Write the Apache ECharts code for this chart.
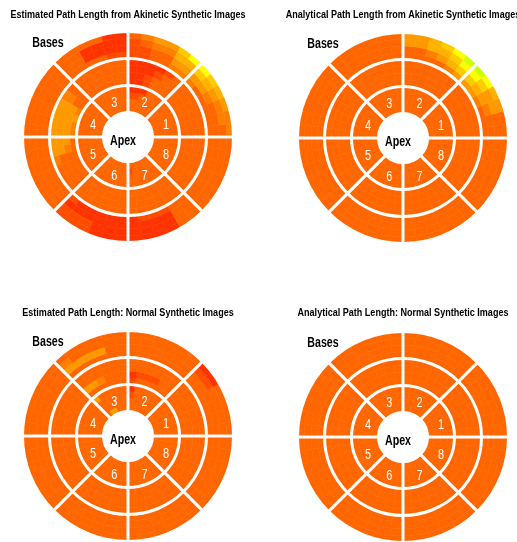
<!DOCTYPE html>
<html>
<head>
<meta charset="utf-8">
<script src="https://cdn.jsdelivr.net/npm/echarts@6/dist/echarts.min.js"></script>
<style>
  html, body { margin: 0; padding: 0; background: #fff; }
  #chart { width: 517px; height: 542px; }
</style>
</head>
<body>
<div id="chart"></div>
<script>
// Panel headings
const panelTitles = [
  'Estimated Path Length from Akinetic Synthetic Images',
  'Analytical Path Length from Akinetic Synthetic Images',
  'Estimated Path Length: Normal Synthetic Images',
  'Analytical Path Length: Normal Synthetic Images'
];
const segmentLabels = ['1', '2', '3', '4', '5', '6', '7', '8'];
const baseLabel = 'Bases';
const apexLabel = 'Apex';

// Colour scale for path-length levels 0 (shortest, red) .. 9 (longest, yellow-green)
const levelColors = ['#e61a00', '#ff3300', '#ff4d00', '#ff6600', '#ff8000',
                     '#ff9900', '#ffb300', '#ffcc00', '#ffff00', '#ccff00'];

// Level grids: one row per radial band, outermost (base) band first, innermost (apex) last.
// Each row has 48 angular bins of 7.5 deg, counter-clockwise from 3 o'clock,
// grouped six at a time per segment (1..8).
const akineticEstimated = [
  '445678 875543 113333 333333 333333 222111 111133 333333',
  '344567 664432 111133 333333 333333 222111 111133 333333',
  '333455 553322 111133 333333 333333 111111 111133 333333',
  '333334 443322 223333 333333 333333 211111 122233 333333',
  '333333 321111 333333 345555 554333 333333 333333 333333',
  '333333 332111 333333 345555 553333 333333 333333 333333',
  '333333 333211 333333 335555 543333 333333 333333 333333',
  '333333 333211 333333 334544 333333 333333 333333 333333',
  '333333 333111 333333 333333 333333 333333 333333 333333',
  '333333 333322 333333 333333 333333 333333 333333 333333',
  '333333 333333 333333 333333 333333 333333 233333 333333',
  '333333 333333 333333 333333 333333 333333 333333 333333'
];
const akineticAnalytical = [
  '335689 987655 333333 333333 333333 333333 333333 333333',
  '335578 876655 333333 333333 333333 333333 333333 333333',
  '334567 765433 333333 333333 333333 333333 333333 333333',
  '333455 543333 333333 333333 333333 333333 333333 333333',
  '333333 333333 333333 333333 333333 333333 333333 333333',
  '333333 333333 333333 333333 333333 333333 333333 333333',
  '333333 333333 333333 333333 333333 333333 333333 333333',
  '333333 333333 333333 333333 333333 333333 333333 333333',
  '333333 333333 333333 333333 333333 333333 333333 333333',
  '333333 333333 333333 333333 333333 333333 333333 333333',
  '333333 333333 333333 333333 333333 333333 333333 333333',
  '333333 333333 333333 333333 333333 333333 333333 333333'
];
const normalEstimated = [
  '333311 333333 333333 333333 333333 333333 333333 333333',
  '333322 333333 333334 333333 333333 333333 333333 333333',
  '333333 333333 335555 333333 333333 333333 333333 333333',
  '333333 333333 333333 333333 333333 333333 333333 333333',
  '333333 333333 333333 333333 333333 333333 333333 333333',
  '333333 333333 333333 333333 333333 333333 333333 333333',
  '333333 332221 333455 333333 333333 333333 333333 333333',
  '333333 333332 333333 333333 333333 333333 333333 333333',
  '333333 333331 333335 333333 333333 333333 333333 333333',
  '333333 333332 333333 333333 333333 333333 333333 333333',
  '333333 333333 333333 333333 333333 333333 333333 333333',
  '333333 333333 333553 333333 333333 333333 333333 333333'
];
const normalAnalytical = [
  '333333 333333 333333 333333 333333 333333 333333 333333',
  '333333 333333 333333 333333 333333 333333 333333 333333',
  '333333 333333 333333 333333 333333 333333 333333 333333',
  '333333 333333 333333 333333 333333 333333 333333 333333',
  '333333 333333 333333 333333 333333 333333 333333 333333',
  '333333 333333 333333 333333 333333 333333 333333 333333',
  '333333 333333 333333 333333 333333 333333 333333 333333',
  '333333 333333 333333 333333 333333 333333 333333 333333',
  '333333 333333 333333 333333 333333 333333 333333 333333',
  '333333 333333 333333 333333 333333 333333 333333 333333',
  '333333 333333 333333 333333 333333 333333 333333 333333',
  '333333 333333 333333 333333 333333 333333 333333 333333'
];

const FONT = "'Liberation Sans', Arial, sans-serif";
const TITLE_FONT = 'bold 11px ' + FONT;
const NAME_FONT = 'bold 14px ' + FONT;
const DIGIT_FONT = '14px ' + FONT;

const panels = [
  { title: panelTitles[0], grid: akineticEstimated, center: [128, 137], titleY: 15 },
  { title: panelTitles[1], grid: akineticAnalytical, center: [403, 138], titleY: 15 },
  { title: panelTitles[2], grid: normalEstimated, center: [128, 436], titleY: 313 },
  { title: panelTitles[3], grid: normalAnalytical, center: [403, 437], titleY: 313 }
];

const BAND_COUNT = 12;     // radial bands, 4 per ring
const BIN_COUNT = 48;      // angular bins, 6 per segment
const INNER_R = 24.5, OUTER_R = 105.5;

// Narrow lettering: squeeze regular glyphs horizontally
const measureCtx = document.createElement('canvas').getContext('2d');
function textWidth(text, font) {
  measureCtx.font = font;
  return measureCtx.measureText(text).width;
}
const titleSqueeze = 235 / textWidth(panelTitles[0], TITLE_FONT);
const nameSqueeze = 26 / textWidth(apexLabel, NAME_FONT);
const digitSqueeze = 0.78;

function parseGrid(rows) {
  return rows.map(r => r.replace(/\s+/g, '').split('').map(Number));
}

function textEl(text, x, y, font, fill, squeeze) {
  return {
    type: 'text', x, y, z: 100, scaleX: squeeze, silent: true,
    style: { text, font, fill, align: 'center', verticalAlign: 'middle',
             textAlign: 'center', textVerticalAlign: 'middle' }
  };
}

const polar = [], angleAxis = [], radiusAxis = [], series = [], graphic = [];
const binNames = Array.from({ length: BIN_COUNT }, (_, i) => String(i));

panels.forEach((p, pi) => {
  const levels = parseGrid(p.grid);
  polar.push({ center: p.center, radius: [INNER_R, OUTER_R] });
  angleAxis.push({
    polarIndex: pi, type: 'category', data: binNames,
    startAngle: 0, clockwise: false, boundaryGap: true, z: 5,
    axisLine: { show: false },
    axisTick: { show: false, interval: 5 },
    axisLabel: { show: false },
    splitLine: { show: true, interval: 5, lineStyle: { color: '#ffffff', width: 3 } }
  });
  radiusAxis.push({
    polarIndex: pi, type: 'value', min: 0, max: BAND_COUNT, interval: 4, z: 5,
    axisLine: { show: false }, axisTick: { show: false }, axisLabel: { show: false },
    splitLine: { show: true, lineStyle: { color: '#ffffff', width: 3 } }
  });
  // stack bands from the apex outwards
  for (let b = 0; b < BAND_COUNT; b++) {
    const row = levels[BAND_COUNT - 1 - b];
    series.push({
      type: 'bar', coordinateSystem: 'polar', polarIndex: pi,
      stack: 'bullseye' + pi, barCategoryGap: '0%', silent: true,
      data: row.map(lv => ({
        value: 1,
        itemStyle: { color: levelColors[lv], borderColor: levelColors[lv], borderWidth: 0.6 }
      }))
    });
  }

  const [cx, cy] = p.center;
  graphic.push(textEl(p.title, cx, p.titleY, TITLE_FONT, '#000', titleSqueeze));
  graphic.push(textEl(baseLabel, cx - 80, cy - 94, NAME_FONT, '#000', nameSqueeze));
  graphic.push(textEl(apexLabel, cx - 5, cy + 4, NAME_FONT, '#000', nameSqueeze));
  const labelR = 39.5;
  segmentLabels.forEach((t, k) => {
    const a = (22.5 + 45 * k) * Math.PI / 180;
    graphic.push(textEl(t, cx + 1.5 + labelR * Math.cos(a), cy + 3 - labelR * Math.sin(a),
                        DIGIT_FONT, '#ffffff', digitSqueeze));
  });
});

const chart = echarts.init(document.getElementById('chart'));
chart.setOption({
  animation: false,
  backgroundColor: '#ffffff',
  polar, angleAxis, radiusAxis, series, graphic
});
</script>
</body>
</html>
